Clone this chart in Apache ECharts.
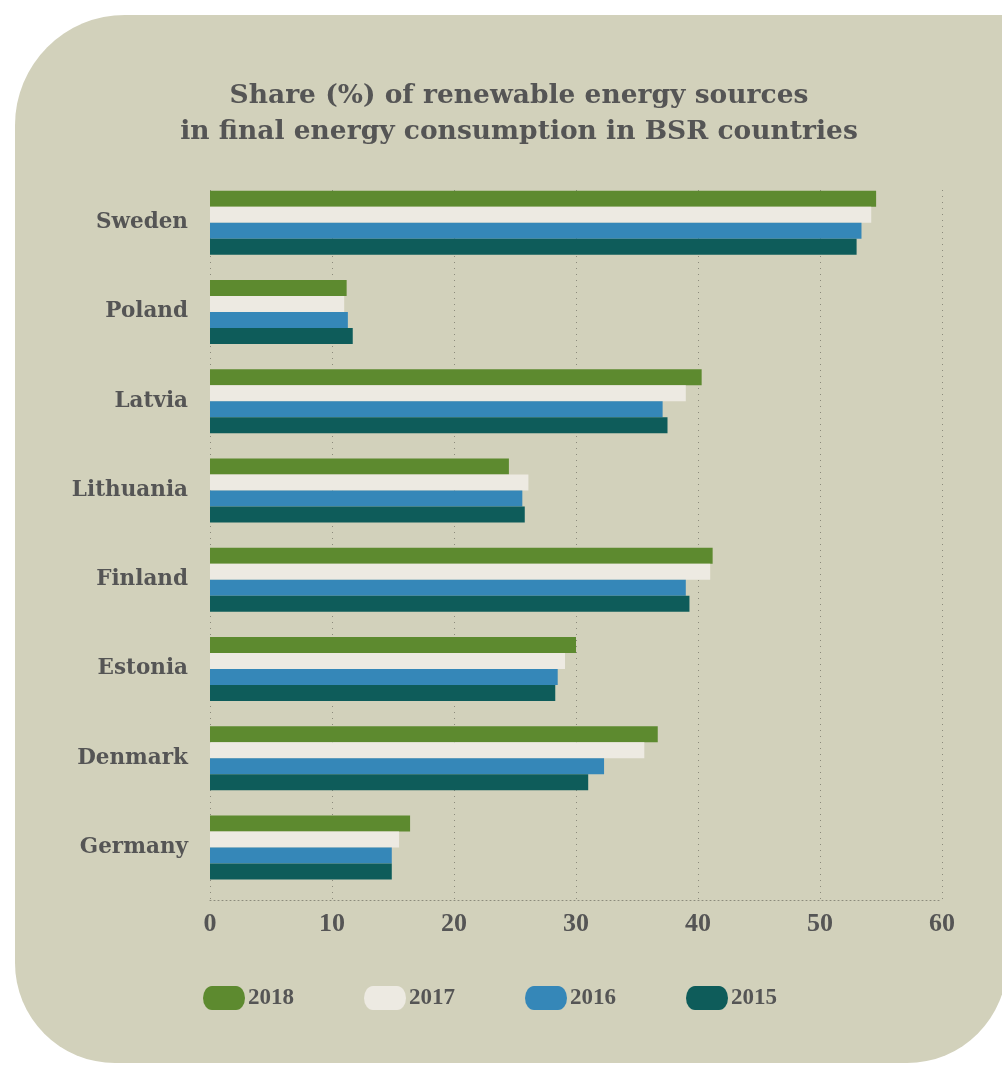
<!DOCTYPE html>
<html>
<head>
<meta charset="utf-8">
<script src="https://cdn.jsdelivr.net/npm/echarts@6/dist/echarts.min.js"></script>
<style>
html,body{margin:0;padding:0;background:#ffffff;}
#chart{width:1002px;height:1065px;}
</style>
</head>
<body>
<div id="chart"></div>
<script>
var countries = ['Sweden','Poland','Latvia','Lithuania','Finland','Estonia','Denmark','Germany'];
var years = ['2018','2017','2016','2015'];
var v2018 = [54.6, 11.2, 40.3, 24.5, 41.2, 30.0, 36.7, 16.4];
var v2017 = [54.2, 11.0, 39.0, 26.1, 41.0, 29.1, 35.6, 15.5];
var v2016 = [53.4, 11.3, 37.1, 25.6, 39.0, 28.5, 32.3, 14.9];
var v2015 = [53.0, 11.7, 37.5, 25.8, 39.3, 28.3, 31.0, 14.9];
var xTicks = [0, 10, 20, 30, 40, 50, 60];
var colors = ['#5d8a2f', '#edeae2', '#3587b8', '#0e5c5a'];

var seriesValues = [v2018, v2017, v2016, v2015];
var chart = echarts.init(document.getElementById('chart'), null, {renderer:'canvas'});
var textCol = '#555555';
var pill = 'path://M9,0 H33 A9,12 0 0 1 42,12 A9,12 0 0 1 33,24 H9 A9,12 0 0 1 0,12 A9,12 0 0 1 9,0 Z';

var option = {
  backgroundColor: '#ffffff',
  animation: false,
  graphic: [{
    type: 'rect', z: -10, silent: true,
    shape: {x: 15, y: 15, width: 992, height: 1048, r: [110, 0, 100, 100]},
    style: {fill: '#d2d1bb'}
  }],
  title: {
    text: 'Share (%) of renewable energy sources\nin final energy consumption in BSR countries',
    left: 514, top: 73, textAlign: 'center',
    textStyle: {fontFamily: 'DejaVu Serif', fontWeight: 'bold', fontSize: 26.5, color: textCol, lineHeight: 36}
  },
  legend: {
    data: years, left: 198, top: 981, itemWidth: 42, itemHeight: 24, itemGap: 70,
    icon: pill, symbolKeepAspect: false,
    textStyle: {fontFamily: 'Liberation Serif', fontWeight: 'bold', fontSize: 23, color: textCol, padding: [0,0,0,-2]}
  },
  grid: [
    {left: 210, right: 60, top: 178, height: 714},
    {left: 210, right: 60, top: 190, height: 710}
  ],
  xAxis: [
    {gridIndex: 0, type: 'value', min: xTicks[0], max: xTicks[xTicks.length-1], interval: 10, show: false, splitLine: {show: false}},
    {gridIndex: 1, type: 'value', min: xTicks[0], max: xTicks[xTicks.length-1], interval: 10,
     axisLine: {show: true, lineStyle: {color: '#8c8b7c', type: [1, 3], width: 1}},
     axisTick: {show: false},
     splitLine: {show: true, lineStyle: {color: '#8c8b7c', type: [1, 5], width: 1}},
     axisLabel: {margin: 11, fontFamily: 'Liberation Serif', fontWeight: 'bold', fontSize: 26, color: textCol,
       formatter: function(v){ return xTicks.indexOf(v) >= 0 ? String(v) : ''; }}
    }
  ],
  yAxis: [
    {gridIndex: 0, type: 'category', data: countries, inverse: true,
     axisLine: {show: false}, axisTick: {show: false}, splitLine: {show: false},
     axisLabel: {margin: 22, padding: [8, 0, 0, 0], fontFamily: 'DejaVu Serif', fontWeight: 'bold', fontSize: 21.5, color: textCol}},
    {gridIndex: 1, type: 'value', show: false, splitLine: {show: false}}
  ],
  series: years.map(function(y, i){
    return {
      name: y, type: 'bar', xAxisIndex: 0, yAxisIndex: 0,
      data: seriesValues[i], barWidth: 16, barGap: '0%',
      itemStyle: {color: colors[i]}
    };
  })
};
chart.setOption(option);
</script>
</body>
</html>
